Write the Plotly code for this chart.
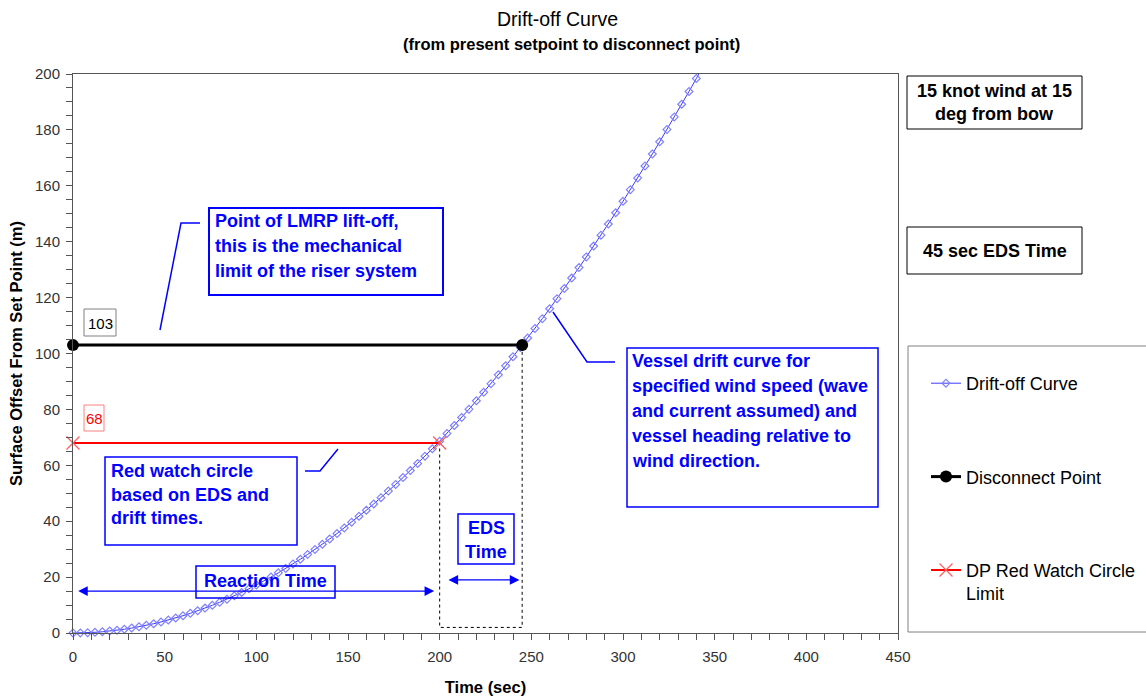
import plotly.graph_objects as go

# ---------------- data ----------------
drift_time = [0, 4, 8, 12, 16, 20, 24, 28, 32, 36, 40, 44, 48, 52, 56, 60, 64, 68, 72, 76,
              80, 84, 88, 92, 96, 100, 104, 108, 112, 116, 120, 124, 128, 132, 136, 140,
              144, 148, 152, 156, 160, 164, 168, 172, 176, 180, 184, 188, 192, 196, 200,
              204, 208, 212, 216, 220, 224, 228, 232, 236, 240, 244, 248, 252, 256, 260,
              264, 268, 272, 276, 280, 284, 288, 292, 296, 300, 304, 308, 312, 316, 320,
              324, 328, 332, 336, 340, 344]
drift_offset = [0.0, 0.03, 0.11, 0.25, 0.44, 0.69, 0.99, 1.35, 1.76, 2.22, 2.75, 3.32, 3.95,
                4.64, 5.38, 6.18, 7.03, 7.94, 8.90, 9.91, 10.98, 12.11, 13.29, 14.53, 15.82,
                17.16, 18.56, 20.02, 21.53, 23.09, 24.71, 26.39, 28.12, 29.90, 31.74, 33.63,
                35.58, 37.59, 39.65, 41.76, 43.93, 46.16, 48.43, 50.77, 53.16, 55.60, 58.10,
                60.65, 63.26, 65.93, 68.64, 71.42, 74.25, 77.13, 80.07, 83.06, 86.11, 89.21,
                92.37, 95.58, 98.85, 102.17, 105.55, 108.98, 112.47, 116.01, 119.61, 123.26,
                126.97, 130.73, 134.55, 138.42, 142.35, 146.33, 150.37, 154.46, 158.61,
                162.81, 167.07, 171.38, 175.74, 180.16, 184.64, 189.17, 193.75, 198.39, 203.1]

disconnect_time = [0, 245]
disconnect_offset = [103, 103]

red_watch_time = [0, 200]
red_watch_offset = [68, 68]

eds_box_time = [200, 200, 245, 245]
eds_box_offset = [66, 2, 2, 103]

reaction_arrow_time = [2, 197]
reaction_arrow_offset = 15
eds_arrow_time = [204, 243.5]
eds_arrow_offset = 19

x_tick_step = 50
x_minor_step = 10
y_tick_step = 20
y_minor_step = 5

# ---------------- layout helpers ----------------
W, H = 1146, 696
L, R, T, B = 73, 898, 74, 633
FONT = "Liberation Sans, Arial, sans-serif"
BLUE = "#0000ff"


def xp(px):
    return (px - L) / (R - L)


def yp(py):
    return (B - py) / (B - T)


fig = go.Figure()

fig.add_trace(go.Scatter(
    x=drift_time, y=drift_offset, mode="lines+markers", name="Drift-off Curve",
    line=dict(color="#3a3aff", width=1),
    marker=dict(symbol="diamond-open", size=6, color="#8080ff", line=dict(width=1.2)),
    legendgroup="a", cliponaxis=False))

fig.add_trace(go.Scatter(
    x=disconnect_time, y=disconnect_offset, mode="lines+markers", name="Disconnect Point",
    line=dict(color="black", width=3),
    marker=dict(symbol="circle", size=12, color="black"),
    legendgroup="b", cliponaxis=False))

fig.add_trace(go.Scatter(
    x=red_watch_time, y=red_watch_offset, mode="lines+markers",
    name="DP Red Watch Circle<br>Limit",
    line=dict(color="#ff0000", width=2),
    marker=dict(symbol="x-thin-open", size=13, color="#ff6060", line=dict(width=1.3, color="#ff6060")),
    legendgroup="c", cliponaxis=False))

fig.add_trace(go.Scatter(
    x=eds_box_time, y=eds_box_offset, mode="lines", showlegend=False,
    line=dict(color="black", width=1, dash="3px,3px"), hoverinfo="skip"))

shapes = []
annotations = []


def box(x0, y0, x1, y1, color, width=1):
    shapes.append(dict(type="rect", xref="paper", yref="paper",
                       x0=xp(x0), x1=xp(x1), y0=yp(y0), y1=yp(y1),
                       line=dict(color=color, width=width), fillcolor="rgba(0,0,0,0)"))


def text(px, py, s, color, size=18, bold=True, anchor="left"):
    annotations.append(dict(xref="paper", yref="paper", x=xp(px), y=yp(py),
                            text=("<b>%s</b>" % s) if bold else s, showarrow=False,
                            xanchor=anchor, yanchor="middle",
                            font=dict(family=FONT, size=size, color=color)))


def path(points, color, width=1.5):
    d = "M " + " L ".join("%f %f" % (xp(a), yp(b)) for a, b in points)
    shapes.append(dict(type="path", xref="paper", yref="paper", path=d,
                       line=dict(color=color, width=width)))


# titles
text(557, 19, "Drift-off Curve", "black", size=19.5, bold=False, anchor="center")
text(571, 44, "(from present setpoint to disconnect point)", "black", size=16.5, anchor="center")

# value labels
box(84, 309, 116, 336, "#808080")
text(100, 323, "103", "black", size=15, bold=False, anchor="center")
box(84, 405, 104, 431, "#ff8080")
text(94, 418, "68", "#ff0000", size=15, bold=False, anchor="center")

# LMRP box
box(209, 208, 443, 295, BLUE, 2)
for i, s in enumerate(["Point of LMRP lift-off,", "this is the mechanical",
                       "limit of the riser system"]):
    text(213, 221 + 25 * i, s, BLUE)
path([(160, 330), (181, 223), (200, 223)], BLUE)

# vessel drift box
box(627, 348, 878, 507, BLUE, 1.5)
for i, s in enumerate(["Vessel drift curve for", "specified wind speed (wave",
                       "and current assumed) and", "vessel heading relative to",
                       "wind direction."]):
    text(630, 361 + 25 * i, s, BLUE)
path([(553, 312), (587, 362), (615, 362)], BLUE)

# red watch circle box
box(105, 457, 297, 545, BLUE, 1.5)
for i, s in enumerate(["Red watch circle", "based on EDS and", "drift times."]):
    text(109, 471 + 23.5 * i, s, BLUE)
path([(305, 471), (320, 471), (338, 449)], BLUE)

# reaction time
box(196, 566, 335, 598, BLUE, 1.5)
text(265.5, 581, "Reaction Time", BLUE, anchor="center")

# EDS time
box(458, 514, 514, 564, BLUE, 1.5)
text(486, 528, "EDS", BLUE, anchor="center")
text(486, 552, "Time", BLUE, anchor="center")

# right info boxes
box(907, 76, 1082, 129, "black")
text(994.5, 91, "15 knot wind at 15", "black", anchor="center")
text(994.5, 114, "deg from bow", "black", anchor="center")
box(907, 227, 1082, 274, "black")
text(994.5, 251, "45 sec EDS Time", "black", anchor="center")

# legend box
box(908, 346, 1150, 632, "#808080")

# double-headed arrows
for (xa, xb), yv in [(reaction_arrow_time, reaction_arrow_offset),
                     (eds_arrow_time, eds_arrow_offset)]:
    annotations.append(dict(x=xb, y=yv, ax=xa, ay=yv, xref="x", yref="y",
                            axref="x", ayref="y", text="", showarrow=True,
                            arrowhead=2, startarrowhead=2, arrowside="end+start",
                            arrowsize=1.6, startarrowsize=1.6, arrowwidth=1.2,
                            arrowcolor=BLUE))

fig.update_layout(
    width=W, height=H,
    margin=dict(l=L, r=W - R, t=T, b=H - B, autoexpand=False),
    paper_bgcolor="white", plot_bgcolor="white",
    font=dict(family=FONT, size=14, color="black"),
    shapes=shapes, annotations=annotations,
    showlegend=True,
    legend=dict(x=xp(926), y=yp(365), xanchor="left", yanchor="top",
                font=dict(family=FONT, size=18, color="black"),
                tracegroupgap=67, valign="top", bgcolor="rgba(0,0,0,0)",
                borderwidth=0),
)

fig.update_xaxes(
    range=[0, 450], tick0=0, dtick=x_tick_step, showgrid=False, zeroline=False,
    showline=True, linecolor="#555555", linewidth=1, mirror=True,
    ticks="outside", ticklen=6, tickcolor="#555555", ticklabelstandoff=4,
    minor=dict(dtick=x_minor_step, ticks="outside", ticklen=6, tickcolor="#555555",
               showgrid=False),
    tickfont=dict(family=FONT, size=15, color="#333333"),
    title=dict(text="<b>Time (sec)</b>", font=dict(family=FONT, size=16.5, color="black"),
               standoff=20),
    automargin=False)

fig.update_yaxes(
    range=[0, 200], tick0=0, dtick=y_tick_step, showgrid=False, zeroline=False,
    showline=True, linecolor="#555555", linewidth=1, mirror=True,
    ticks="outside", ticklen=6, tickcolor="#555555", ticklabelstandoff=3,
    minor=dict(dtick=y_minor_step, ticks="outside", ticklen=6, tickcolor="#555555",
               showgrid=False),
    tickfont=dict(family=FONT, size=15, color="#333333"),
    title=dict(text="<b>Surface Offset From Set Point (m)</b>",
               font=dict(family=FONT, size=16.5, color="black"), standoff=8),
    automargin=False)

fig.write_html("out.html", config={"displayModeBar": False},
               post_script="document.body.style.margin='0px';")
